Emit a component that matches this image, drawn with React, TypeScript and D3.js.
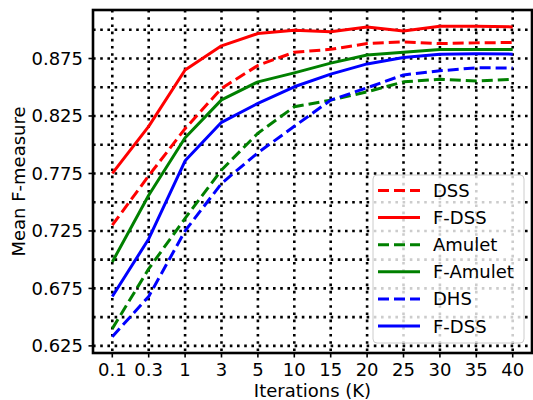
import React from "react";
import * as d3 from "d3";

const iterations = ["0.1", "0.3", "1", "3", "5", "10", "15", "20", "25", "30", "35", "40"];
const dss = [0.730, 0.773, 0.814, 0.849, 0.869, 0.8805, 0.883, 0.888, 0.8895, 0.888, 0.8886, 0.889];
const fDss = [0.775, 0.816, 0.865, 0.886, 0.8967, 0.8995, 0.8982, 0.9025, 0.899, 0.903, 0.903, 0.9025];
const amulet = [0.640, 0.692, 0.736, 0.778, 0.810, 0.833, 0.8388, 0.846, 0.8547, 0.857, 0.8555, 0.857];
const fAmulet = [0.698, 0.756, 0.806, 0.839, 0.8547, 0.8625, 0.871, 0.878, 0.8805, 0.8828, 0.8828, 0.8828];
const dhs = [0.633, 0.668, 0.725, 0.7663, 0.793, 0.816, 0.8388, 0.8495, 0.8607, 0.8643, 0.8669, 0.8668];
const fDss2 = [0.668, 0.718, 0.786, 0.8195, 0.836, 0.8504, 0.8614, 0.8703, 0.8759, 0.8787, 0.8791, 0.8788];
const yMajorTicks = [0.625, 0.675, 0.725, 0.775, 0.825, 0.875];
const yGridTicks = [0.625, 0.65, 0.675, 0.7, 0.725, 0.75, 0.775, 0.8, 0.825, 0.85, 0.875, 0.9];

const series = [
  { name: "DSS", values: dss, color: "#ff0000", dashed: true },
  { name: "F-DSS", values: fDss, color: "#ff0000", dashed: false },
  { name: "Amulet", values: amulet, color: "#008000", dashed: true },
  { name: "F-Amulet", values: fAmulet, color: "#008000", dashed: false },
  { name: "DHS", values: dhs, color: "#0000ff", dashed: true },
  { name: "F-DSS", values: fDss2, color: "#0000ff", dashed: false },
];

const W = 533, H = 400;
const L = 93, R = 532, T = 10, B = 353;
const FONT = "DejaVu Sans, sans-serif";
const FS = 18;

export default function App() {
  const x = d3.scalePoint<string>().domain(iterations).range([L, R]).padding(0.53);
  const y = d3.scaleLinear().domain([0.6188, 0.9172]).range([B, T]);
  const line = d3
    .line<number>()
    .x((_, i) => x(iterations[i]) as number)
    .y((d) => y(d));

  const grid = (key: string, x1: number, y1: number, x2: number, y2: number, color: string) => (
    <line key={key} x1={x1} y1={y1} x2={x2} y2={y2} stroke={color} strokeWidth={2.6} strokeDasharray="2.6,4.6" />
  );

  const legX = 373, legY = 175, legW = 151, legH = 168;
  const rowY0 = 190.5, rowStep = 27.1;

  return (
    <svg width={W} height={H} style={{ position: "absolute", left: 0, top: 0 }} fontFamily={FONT}>
      <rect x={0} y={0} width={W} height={H} fill="#fff" />
      {/* grid */}
      <g>
        {iterations.map((it) => grid("vx" + it, x(it) as number, T, x(it) as number, B, "#000"))}
        {yGridTicks.map((t) => grid("hy" + t, L, y(t), R, y(t), "#000"))}
      </g>
      {/* lines */}
      <g fill="none">
        {series.map((s, i) => (
          <path
            key={i}
            d={line(s.values) as string}
            stroke={s.color}
            strokeWidth={3}
            strokeDasharray={s.dashed ? "11,5" : undefined}
            strokeLinejoin="round"
          />
        ))}
      </g>
      {/* spines */}
      <rect x={L} y={T} width={R - L} height={B - T} fill="none" stroke="#000" strokeWidth={2.6} />
      {/* x ticks */}
      {iterations.map((it) => (
        <g key={"xt" + it}>
          <line x1={x(it) as number} x2={x(it) as number} y1={B} y2={B + 4.5} stroke="#000" strokeWidth={1.6} />
          <text x={x(it) as number} y={376} fontSize={FS} textAnchor="middle" fill="#000">
            {it}
          </text>
        </g>
      ))}
      {/* y ticks */}
      {yMajorTicks.map((t) => (
        <g key={"yt" + t}>
          <line x1={L - 4.5} x2={L} y1={y(t)} y2={y(t)} stroke="#000" strokeWidth={1.6} />
          <text x={83} y={y(t) + 6.5} fontSize={FS} textAnchor="end" fill="#000">
            {d3.format(".3f")(t)}
          </text>
        </g>
      ))}
      <text x={312.5} y={397} fontSize={FS} textAnchor="middle" fill="#000">
        Iterations (K)
      </text>
      <text transform={`translate(25,${(T + B) / 2}) rotate(-90)`} fontSize={FS} textAnchor="middle" fill="#000">
        Mean F-measure
      </text>
      {/* legend */}
      <rect x={legX} y={legY} width={legW} height={legH} rx={4} ry={4} fill="#fff" fillOpacity={0.8} stroke="#cccccc" strokeWidth={1} />
      {series.map((s, i) => {
        const cy = rowY0 + i * rowStep;
        return (
          <g key={"lg" + i}>
            <line
              x1={378}
              x2={420}
              y1={cy}
              y2={cy}
              stroke={s.color}
              strokeWidth={3}
              strokeDasharray={s.dashed ? "11,5" : undefined}
            />
            <text x={433} y={cy + 6.5} fontSize={FS} fill="#000">
              {s.name}
            </text>
          </g>
        );
      })}
    </svg>
  );
}
